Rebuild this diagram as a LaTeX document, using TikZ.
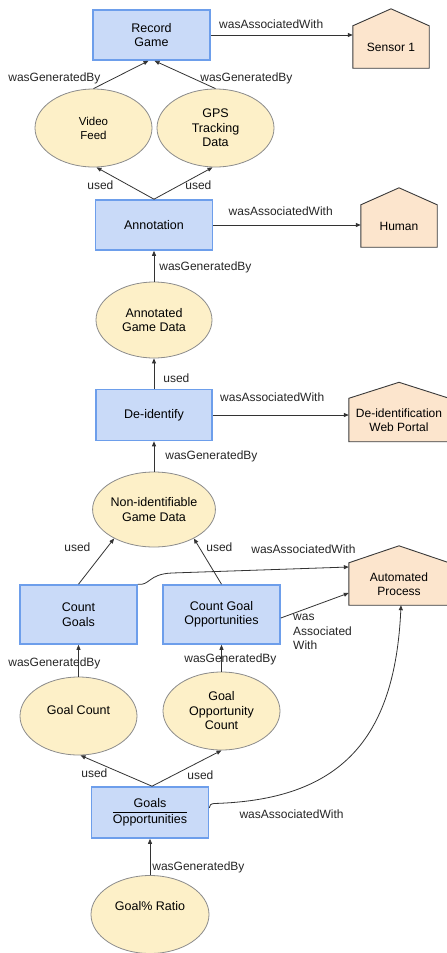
\documentclass[tikz,border=0pt]{standalone}
\usepackage{fontspec}
\setmainfont{Liberation Sans}
\usetikzlibrary{arrows.meta,shapes.geometric}
\pgfdeclarelayer{background}
\pgfsetlayers{background,main}
\definecolor{boxfill}{HTML}{C9DAF8}
\definecolor{boxedge}{HTML}{6D9EEB}
\definecolor{ellfill}{HTML}{FDF0C8}
\definecolor{elledge}{HTML}{8C8C8C}
\definecolor{housefill}{HTML}{FCE5CD}
\definecolor{houseedge}{HTML}{3A3A3A}
\definecolor{linecol}{HTML}{333333}
\tikzset{
  actbox/.style={rectangle, fill=boxfill, draw=boxedge, line width=1.6pt, minimum width=117pt, minimum height=50pt, inner sep=0pt, align=center, font=\fontsize{12.5}{14.5}\selectfont},
  ent/.style={ellipse, fill=ellfill, draw=elledge, line width=0.8pt, minimum width=117pt, minimum height=78pt, inner sep=0pt, align=center, font=\fontsize{12.5}{14.5}\selectfont},
  housebody/.style={rectangle, draw=none, fill=none, inner sep=0pt, align=center, font=\fontsize{12}{14.5}\selectfont},
  houseshape/.style={fill=housefill, draw=houseedge, line width=0.9pt, line join=miter},
  arr/.style={draw=linecol, line width=0.8pt, -{Triangle[length=5pt,width=4pt]}},
  lbl/.style={anchor=base west, inner sep=0pt, text=black!85, font=\fontsize{12}{14}\selectfont},
}
\begin{document}
\begin{tikzpicture}[x=1pt,y=-1pt]
\useasboundingbox (0,0) rectangle (447,953);

% activities
\node[actbox] (rec) at (151.5,35) {Record\\Game};
\node[actbox] (ann) at (154,225) {Annotation};
\node[actbox, minimum width=116pt, minimum height=51pt] (deid) at (154,415) {De-identify};
\node[actbox, minimum height=59pt] (cg) at (78.5,614.5) {Count\\Goals};
\node[actbox, minimum height=59pt] (cgo) at (221.5,614.5) {Count Goal\\Opportunities};
\node[actbox, minimum height=51pt] (go) at (150,812.5) {$\displaystyle\frac{\mbox{Goals}}{\mbox{Opportunities}}$};

% entities
\node[ent, font=\fontsize{11.5}{14}\selectfont] (vid) at (93.5,128) {Video\\Feed};
\node[ent] (gps) at (215.5,128) {GPS\\Tracking\\Data};
\node[ent, minimum width=116pt, minimum height=76pt] (agd) at (154,320) {Annotated\\Game Data};
\node[ent, minimum width=116pt, minimum height=75pt] (nid) at (154,509.5) {Non-identifiable\\Game Data};
\node[ent] (gc) at (78.5,716) {\raisebox{0pt}[\height][\dimexpr\depth+12pt\relax]{Goal Count}};
\node[ent] (goc) at (221.5,711) {Goal\\Opportunity\\Count};
\node[ent, minimum width=118pt] (ratio) at (150,914.5) {\raisebox{0pt}[\height][\dimexpr\depth+16pt\relax]{Goal\% Ratio}};

% agents
\node[housebody, minimum width=76pt, minimum height=42pt] (sensor) at (391,47) {Sensor 1};
\node[housebody, minimum width=76pt, minimum height=42pt] (human) at (399,226) {Human};
\node[housebody, minimum width=100pt, minimum height=43pt] (portal) at (399,420) {De-identification\\Web Portal};
\node[housebody, minimum width=100pt, minimum height=42pt] (auto) at (399,584) {Automated\\Process};

\begin{pgfonlayer}{background}
\fill[white] (0,0) rectangle (447,953);
\foreach \n/\r in {sensor/17, human/17, portal/16, auto/17}
  \filldraw[houseshape] (\n.south west) -- (\n.north west) -- ([yshift=\r pt]\n.north) -- (\n.north east) -- (\n.south east) -- cycle;
\end{pgfonlayer}

% connectors
\draw[arr] (rec.east) -- (rec.east -| sensor.west)
  node[lbl, pos=0, xshift=8pt, yshift=7pt] {wasAssociatedWith};
\draw[arr] (vid.north) -- ([xshift=-3pt]rec.south)
  node[lbl, pos=0, xshift=-85.5pt, yshift=7.5pt] {wasGeneratedBy};
\draw[arr] (gps.north) -- ([xshift=3pt]rec.south)
  node[lbl, pos=0, xshift=-15.5pt, yshift=7.5pt] {wasGeneratedBy};
\draw[arr] (ann.north) -- ([xshift=3pt]vid.south)
  node[lbl, pos=0, xshift=-67pt, yshift=10pt] {used};
\draw[arr] (ann.north) -- ([xshift=-3pt]gps.south)
  node[lbl, pos=0, xshift=31pt, yshift=10pt] {used};
\draw[arr] (ann.east) -- (ann.east -| human.west)
  node[lbl, pos=0, xshift=15pt, yshift=10pt] {wasAssociatedWith};
\draw[arr] (agd.north) -- (ann.south)
  node[lbl, pos=0, xshift=5pt, yshift=11pt] {wasGeneratedBy};
\draw[arr] (deid.north) -- (agd.south)
  node[lbl, pos=0, xshift=9pt, yshift=6.5pt] {used};
\draw[arr] (deid.east) -- (deid.east -| portal.west)
  node[lbl, pos=0, xshift=7pt, yshift=14pt] {wasAssociatedWith};
\draw[arr] (nid.north) -- (deid.south)
  node[lbl, pos=0, xshift=11pt, yshift=12pt] {wasGeneratedBy};
\draw[arr] (cg.north) -- (nid.216)
  node[lbl, pos=0, xshift=-14.5pt, yshift=33pt] {used};
\draw[arr] (cgo.north) -- (nid.324)
  node[lbl, pos=0, xshift=-15.5pt, yshift=33pt] {used};
\draw[arr] (cg.north east) .. controls (150,586) and (148,574) .. (172,573) -- ([yshift=17pt]auto.west)
  node[lbl, pos=0, xshift=79pt, yshift=20pt] {wasAssociatedWith};
\draw[arr] ([yshift=-3.5pt]cgo.east) -- ([yshift=-9pt]auto.west)
  node[pos=0, anchor=north west, inner sep=0pt, xshift=12pt, yshift=4pt, align=left, text=black!85, font=\fontsize{12}{14.5}\selectfont] {was\\Associated\\With};
\draw[arr] (gc.north) -- (cg.south)
  node[lbl, pos=0, xshift=-70.5pt, yshift=10pt] {wasGeneratedBy};
\draw[arr] (goc.north) -- (cgo.south)
  node[lbl, pos=0, xshift=-37.5pt, yshift=9pt] {wasGeneratedBy};
\draw[arr] ([xshift=2pt]go.north) -- ([xshift=2pt]gc.south)
  node[lbl, pos=0, xshift=-71pt, yshift=9pt] {used};
\draw[arr] ([xshift=2pt]go.north) -- (goc.south)
  node[lbl, pos=0, xshift=35pt, yshift=7pt] {used};
\draw[arr] ([yshift=4.5pt]go.east) .. controls (209.5,805) and (210.5,804) .. (214,803.5)
  .. controls (340,800) and (395,740) .. ([xshift=2pt]auto.south);
\node[lbl] (lblgo) at ([xshift=30pt,yshift=-5.5pt]go.east) {wasAssociatedWith};
\draw[arr] (ratio.north) -- (go.south)
  node[lbl, pos=0, xshift=2pt, yshift=5pt] {wasGeneratedBy};
\end{tikzpicture}
\end{document}
